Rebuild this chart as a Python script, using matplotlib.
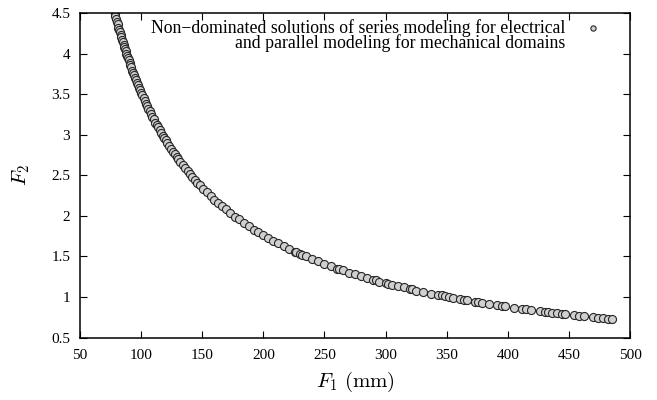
import matplotlib
matplotlib.use('Agg')
import matplotlib.pyplot as plt

# values (non-dominated front)
f1 = [78.4, 79.0, 79.6, 80.2, 80.8, 81.4, 82.0, 82.6, 83.2, 83.8, 84.4, 85.0,
      85.6, 86.2, 86.8, 87.4, 88.0, 88.6, 89.2, 89.8, 90.5, 91.2, 92.0, 92.8,
      93.6, 94.4, 95.2, 96.0, 96.8, 97.6, 98.4, 99.2, 100, 101, 102, 103, 104,
      105, 106, 107, 108, 109.2, 110.4, 111.6, 112.8, 114, 115.2, 116.4,
      117.6, 118.8, 120, 121.5, 123, 124.5, 126, 127.5, 129, 130.5, 132, 134,
      136, 138, 140, 142, 144, 146, 148, 151, 154, 157, 160, 163, 166, 169.5,
      173, 176.5, 180, 184, 188, 192, 196, 200, 204, 208, 212, 216.5, 221,
      225.5, 227, 230, 232, 235, 240, 245, 250, 255, 260, 262, 265, 270, 275,
      280, 285, 290, 292, 295, 300, 302, 305, 310, 315, 320, 322, 325, 331,
      337, 343, 346, 349, 352, 355, 361, 364, 367, 373, 376, 379, 385, 391,
      395, 398, 405, 412, 415, 419, 426, 430, 433, 436, 440, 444, 447, 454,
      458, 462, 470, 474, 478, 482, 485]
f2 = [4.49, 4.46, 4.42, 4.39, 4.36, 4.32, 4.29, 4.26, 4.23, 4.20, 4.17, 4.14,
      4.11, 4.08, 4.06, 4.03, 4.00, 3.97, 3.95, 3.92, 3.89, 3.86, 3.83, 3.79,
      3.76, 3.73, 3.70, 3.67, 3.64, 3.61, 3.58, 3.55, 3.52, 3.49, 3.45, 3.42,
      3.38, 3.35, 3.32, 3.29, 3.26, 3.22, 3.19, 3.15, 3.12, 3.09, 3.06, 3.02,
      2.99, 2.96, 2.93, 2.90, 2.86, 2.83, 2.79, 2.76, 2.73, 2.70, 2.67, 2.63,
      2.59, 2.55, 2.51, 2.48, 2.44, 2.41, 2.38, 2.33, 2.29, 2.24, 2.20, 2.16,
      2.12, 2.08, 2.03, 1.99, 1.96, 1.91, 1.87, 1.83, 1.80, 1.76, 1.73, 1.69,
      1.66, 1.63, 1.59, 1.56, 1.55, 1.53, 1.52, 1.50, 1.47, 1.44, 1.41, 1.38,
      1.35, 1.345, 1.33, 1.30, 1.28, 1.26, 1.24, 1.21, 1.205, 1.19, 1.17,
      1.165, 1.15, 1.14, 1.12, 1.10, 1.095, 1.08, 1.06, 1.04, 1.03, 1.02, 1.01,
      1.0, 0.99, 0.975, 0.967, 0.96, 0.944, 0.936, 0.929, 0.914, 0.90, 0.891,
      0.884, 0.869, 0.854, 0.848, 0.84, 0.826, 0.818, 0.813, 0.807, 0.80,
      0.793, 0.787, 0.775, 0.769, 0.762, 0.749, 0.743, 0.736, 0.730, 0.726]

key_label = ('Non\u2212dominated solutions of series modeling for electrical\n'
             'and parallel modeling for mechanical domains')

plt.rcParams['font.family'] = ['Liberation Serif', 'DejaVu Serif']
plt.rcParams['mathtext.fontset'] = 'cm'

fig = plt.figure(figsize=(6.57, 4.0), dpi=100)
ax = fig.add_axes([0.1218, 0.156, 0.8372, 0.8115])

mstyle = dict(marker='o', ls='none', mfc='#d0d0d0', mec='#262626', mew=0.8)
ax.plot(f1, f2, ms=5.8, **mstyle)

ax.set_xlim(50, 500)
ax.set_ylim(0.5, 4.5)
ax.set_xticks(range(50, 501, 50))
ax.set_yticks([0.5, 1, 1.5, 2, 2.5, 3, 3.5, 4, 4.5])
ax.set_yticklabels(['0.5', '1', '1.5', '2', '2.5', '3', '3.5', '4', '4.5'])
ax.tick_params(direction='in', top=True, right=True, length=5, width=0.8,
               labelsize=11)
ax.tick_params(axis='x', pad=8)
ax.tick_params(axis='y', pad=7)
for s in ax.spines.values():
    s.set_linewidth(1.1)

ax.set_xlabel(r'$F_1\ (\mathrm{mm})$', fontsize=15, labelpad=6)
ax.set_ylabel(r'$F_2$', fontsize=15, labelpad=14)

# gnuplot-style key, top right
ax.text(0.882, 0.98, key_label, transform=ax.transAxes, ha='right',
        va='top', fontsize=12.8, linespacing=0.74, multialignment='right')
ax.plot([0.932], [0.953], transform=ax.transAxes, ms=3.8, clip_on=False,
        **mstyle)

fig.savefig('out.png', dpi=100)
